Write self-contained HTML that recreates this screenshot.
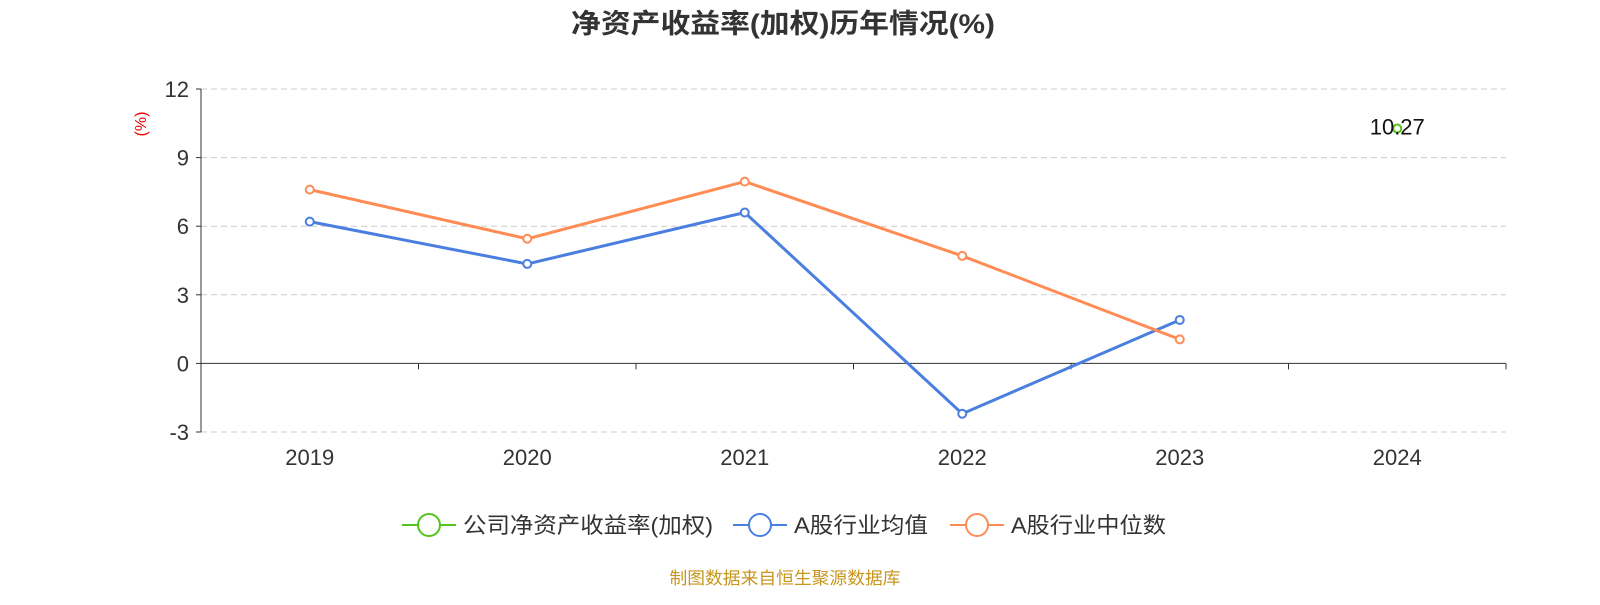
<!DOCTYPE html>
<html><head><meta charset="utf-8"><style>
body{margin:0;background:#fff;width:1600px;height:600px;overflow:hidden;font-family:"Liberation Sans","Noto Sans CJK SC",sans-serif;}
</style></head><body>
<svg id="c" width="1600" height="600" xmlns="http://www.w3.org/2000/svg">
<text x="783" y="33" text-anchor="middle" font-size="27" font-weight="bold" fill="#333" textLength="424" lengthAdjust="spacingAndGlyphs" font-family="Liberation Sans,Noto Sans CJK SC,sans-serif">净资产收益率(加权)历年情况(%)</text>
<text transform="translate(146,124) rotate(-90)" text-anchor="middle" font-size="16" fill="#e00">(%)</text>
<g id="grid"></g><g id="series"></g>
<g font-family="Liberation Sans,Noto Sans CJK SC,sans-serif" font-size="22" fill="#333">
<g><line x1="402" y1="525" x2="456" y2="525" stroke="#52c41a" stroke-width="2"/><circle cx="429" cy="525" r="11" fill="#fff" stroke="#52c41a" stroke-width="2"/><text x="463" y="533" textLength="250" lengthAdjust="spacingAndGlyphs">公司净资产收益率(加权)</text></g>
<g><line x1="733" y1="525" x2="787" y2="525" stroke="#4a7fe0" stroke-width="2"/><circle cx="760" cy="525" r="11" fill="#fff" stroke="#4a7fe0" stroke-width="2"/><text x="794" y="533" textLength="134" lengthAdjust="spacingAndGlyphs">A股行业均值</text></g>
<g><line x1="950" y1="525" x2="1004" y2="525" stroke="#ff8c55" stroke-width="2"/><circle cx="977" cy="525" r="11" fill="#fff" stroke="#ff8c55" stroke-width="2"/><text x="1011" y="533" textLength="155" lengthAdjust="spacingAndGlyphs">A股行业中位数</text></g>
</g>
<text x="785" y="584" text-anchor="middle" font-size="17" fill="#c8961e" textLength="231" lengthAdjust="spacingAndGlyphs">制图数据来自恒生聚源数据库</text>
</svg>
<script>
const categories=["2019","2020","2021","2022","2023","2024"];
const companyValues=[null,null,null,null,null,10.27];
const meanValues=[6.2,4.35,6.6,-2.2,1.9,null];
const medianValues=[7.6,5.45,7.95,4.7,1.05,null];
const yTicks=[-3,0,3,6,9,12];
const NS="http://www.w3.org/2000/svg";
const L=201,R=1506,T=89,B=432,ymin=-3,ymax=12;
const band=(R-L)/categories.length;
const xs=i=>L+band*(i+0.5);
const ys=v=>B-(v-ymin)/(ymax-ymin)*(B-T);
function mk(tag,attrs,parent){const e=document.createElementNS(NS,tag);for(const k in attrs)e.setAttribute(k,attrs[k]);parent.appendChild(e);return e;}
const g=document.getElementById('grid'),s=document.getElementById('series');
yTicks.forEach(t=>{
  const y=ys(t);
  if(t!==0){const ln=mk('line',{x1:L,x2:R,y1:y,y2:y,stroke:'#ccc','stroke-dasharray':'6,4'},g);
  
  }
  mk('line',{x1:L-5,x2:L,y1:y,y2:y,stroke:'#333'},g);
  const tx=mk('text',{x:L-12,y:y+8,'text-anchor':'end','font-size':22,fill:'#333'},g);tx.textContent=t;
  
  
});
mk('line',{x1:L,x2:L,y1:T,y2:B,stroke:'#333'},g);
const xa=mk('line',{x1:L,x2:R,y1:ys(0),y2:ys(0),stroke:'#333'},g);


for(let i=0;i<=categories.length;i++){mk('line',{x1:L+band*i,x2:L+band*i,y1:ys(0),y2:ys(0)+6,stroke:'#333'},g);}
categories.forEach((c,i)=>{const tx=mk('text',{x:xs(i),y:465,'text-anchor':'middle','font-size':22,fill:'#333'},g);tx.textContent=c;
  
  });
function series(vals,color,name){
  const pts=[];vals.forEach((v,i)=>{if(v!==null)pts.push([xs(i),ys(v)]);});
  if(pts.length>1){const p=mk('polyline',{points:pts.map(p=>p.join(',')).join(' '),fill:'none',stroke:color,'stroke-width':3},s);
    
    }
  pts.forEach(p=>{const c=mk('circle',{cx:p[0],cy:p[1],r:4,fill:'#fff',stroke:color,'stroke-width':2},s);
    
    });
}
series(meanValues,'#4a7fe0','industry-mean');
series(medianValues,'#ff8c55','industry-median');
series(companyValues,'#52c41a','company');
companyValues.forEach((v,i)=>{if(v!==null){const tx=mk('text',{x:xs(i),y:ys(v)+6,'text-anchor':'middle','font-size':22,fill:'#111'},s);tx.textContent=v;
  
  }});
</script>
</body></html>
